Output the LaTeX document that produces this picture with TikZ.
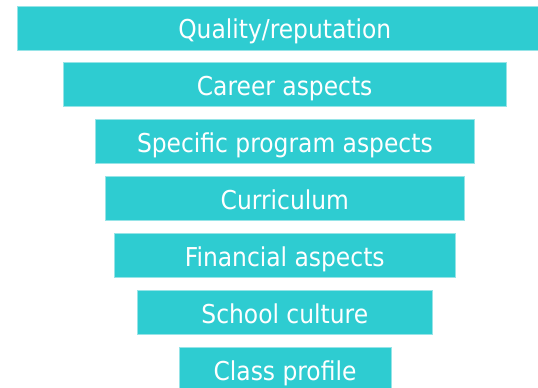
\documentclass[tikz,border=0pt]{standalone}
\usepackage{fontspec}
\setmainfont{DejaVu Sans Condensed}
\definecolor{barfill}{RGB}{46,204,209}
\definecolor{baredge}{RGB}{150,228,231}
\begin{document}
\begin{tikzpicture}[x=1pt,y=-1pt,
  bar/.style={rectangle, fill=barfill, draw=baredge, line width=0.7pt,
    inner sep=0pt, minimum height=44pt, text height=33pt, text depth=11pt,
    text=white, font=\fontsize{26}{30}\selectfont, anchor=north}]
\useasboundingbox (0,0) rectangle (538,388);
\node[bar, minimum width=534.5pt] (q) at (284.75,5.5) {Quality/reputation};
\node[bar, minimum width=442.7pt] (c) at (284.65,62) {Career aspects};
\node[bar, minimum width=378.3pt] (s) at (284.85,119.3) {Specific program aspects};
\node[bar, minimum width=359.7pt] (cu) at (284.85,176.3) {Curriculum};
\node[bar, minimum width=341pt] (f) at (284.8,233.3) {Financial aspects};
\node[bar, minimum width=295pt] (sc) at (284.8,290) {School culture};
\node[bar, minimum width=212pt] (cp) at (285,347.3) {Class profile};
\end{tikzpicture}
\end{document}
